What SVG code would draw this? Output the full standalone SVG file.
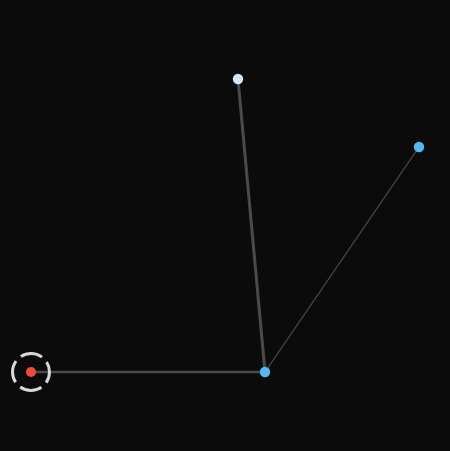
<svg xmlns="http://www.w3.org/2000/svg" width="450" height="451" viewBox="0 0 450 451">
<style>
.edge{stroke:#4a4a4a;fill:none;stroke-linecap:round}
.node{stroke:none}
</style>
<rect width="450" height="451" fill="#0b0b0b"/>
<g id="connectors">
<line class="edge" x1="31" y1="372" x2="265" y2="372" stroke-width="2.5"/>
<line class="edge" x1="238" y1="79" x2="265" y2="372" stroke-width="3"/>
<line class="edge" x1="265" y1="372" x2="419" y2="147" stroke-width="1.3"/>
</g>
<g id="origin">
<circle cx="31" cy="372" r="18.5" fill="none" stroke="#d8d8d8" stroke-width="3" stroke-dasharray="22.5 6.56" stroke-dashoffset="11.25"/>
<circle class="node" cx="31" cy="372" r="5" fill="#f24a3a"/>
</g>
<g id="node-top"><circle class="node" cx="238" cy="79" r="5.2" fill="#cfe8fc"/></g>
<g id="node-right"><circle class="node" cx="419" cy="147" r="5.2" fill="#55b8f0"/></g>
<g id="node-joint"><circle class="node" cx="265" cy="372" r="5.2" fill="#55b8f0"/></g>
</svg>
